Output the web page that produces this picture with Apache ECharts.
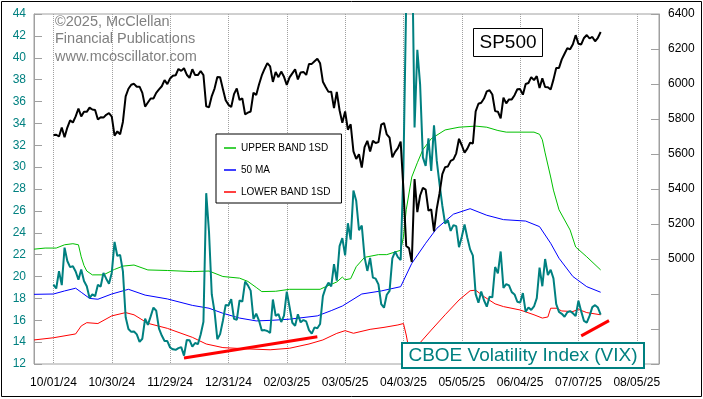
<!DOCTYPE html>
<html>
<head>
<meta charset="utf-8">
<script src="https://cdn.jsdelivr.net/npm/echarts@6/dist/echarts.min.js"></script>
<style>
  html, body { margin: 0; padding: 0; background: #fff; }
  #chart { width: 703px; height: 399px; }
</style>
</head>
<body>
<div id="chart"></div>
<script>
// trading-day index along the x axis, 10/01/24 sits on day 7
const dayCount = 226
const firstDay = 7
const tickLabels = ['10/01/24', '10/30/24', '11/29/24', '12/31/24', '02/03/25', '03/05/25',
  '04/03/25', '05/05/25', '06/04/25', '07/07/25', '08/05/25']

// VIX close, one value per trading day from 10/01/24
const vix = [
  19.26, 18.90, 20.49, 19.21, 22.64, 21.42, 20.86, 20.93, 20.46, 19.70,
  20.64, 19.58, 19.11, 18.03, 18.37, 18.20, 19.24, 19.08, 20.33, 19.80,
  19.34, 20.35, 23.16, 21.88, 21.98, 20.49, 16.27, 15.20, 14.94, 14.97,
  14.71, 14.02, 14.31, 16.14, 15.58, 16.35, 17.16, 16.87, 15.24, 14.60,
  14.10, 14.10, 13.51, 13.34, 13.30, 13.45, 13.54, 12.77, 14.19, 14.18,
  13.58, 13.92, 13.81, 14.69, 15.87, 27.62, 24.09, 18.36, 16.78, 14.27,
  14.73, 15.95, 17.40, 17.35, 17.93, 16.13, 16.04, 17.82, 17.70, 19.54,
  19.19, 18.71, 16.12, 16.60, 15.97, 15.06, 15.10, 15.02, 14.85, 17.90,
  16.41, 16.56, 15.84, 16.43, 18.62, 17.21, 15.77, 15.50, 16.54, 15.81,
  16.02, 15.89, 15.10, 14.77, 15.35, 15.27, 15.66, 18.21, 18.98, 19.43,
  19.10, 21.13, 19.63, 22.78, 23.51, 21.93, 24.87, 23.37, 27.86, 26.92,
  24.23, 24.66, 21.77, 20.51, 21.70, 19.90, 19.80, 19.28, 17.48, 17.15,
  18.33, 18.69, 21.65, 22.28, 21.77, 21.51, 30.02, 45.31, 46.98, 52.33,
  33.62, 40.72, 37.56, 30.89, 30.12, 32.64, 29.65, 33.82, 30.57, 28.45,
  26.47, 24.84, 25.15, 24.17, 24.70, 24.60, 22.68, 23.64, 24.76, 23.55,
  22.48, 21.90, 18.39, 17.61, 18.62, 17.83, 17.24, 18.14, 18.09, 20.87,
  20.28, 22.29, 18.96, 19.31, 19.18, 18.57, 18.36, 17.69, 17.61, 18.48,
  16.77, 17.16, 16.95, 17.26, 18.02, 20.82, 19.11, 21.60, 20.14, 20.62,
  19.83, 17.48, 16.76, 16.59, 16.32, 16.73, 16.83, 16.64, 16.38, 17.79,
  16.81, 15.94, 15.78, 16.40, 17.20, 17.38, 17.16, 16.52
]

// S&P 500 close, same days
const spx = [
  5709, 5710, 5700, 5751, 5696, 5751, 5792, 5780, 5815, 5860,
  5815, 5842, 5841, 5865, 5854, 5851, 5797, 5810, 5808, 5824,
  5833, 5814, 5705, 5729, 5713, 5783, 5929, 5973, 5996, 6001,
  5984, 5985, 5949, 5871, 5894, 5917, 5917, 5949, 5969, 5987,
  6022, 5999, 6032, 6047, 6050, 6086, 6075, 6090, 6053, 6035,
  6084, 6051, 6051, 6074, 6051, 5872, 5867, 5931, 5974, 6040,
  6038, 5971, 5907, 5882, 5869, 5942, 5975, 5909, 5918, 5827,
  5836, 5843, 5950, 5937, 5997, 6049, 6086, 6119, 6101, 6012,
  6068, 6039, 6071, 6041, 5995, 6038, 6061, 6084, 6026, 6066,
  6069, 6052, 6115, 6115, 6130, 6144, 6118, 6013, 5983, 5955,
  5956, 5862, 5955, 5850, 5778, 5843, 5739, 5770, 5615, 5572,
  5599, 5522, 5639, 5675, 5615, 5675, 5663, 5668, 5768, 5777,
  5712, 5693, 5581, 5612, 5633, 5671, 5397, 5074, 5062, 4983,
  5457, 5268, 5363, 5406, 5397, 5276, 5283, 5158, 5288, 5376,
  5485, 5525, 5529, 5561, 5569, 5604, 5687, 5650, 5607, 5631,
  5664, 5660, 5844, 5887, 5893, 5917, 5958, 5964, 5940, 5845,
  5842, 5803, 5922, 5889, 5912, 5912, 5936, 5970, 5971, 5939,
  6000, 6006, 6039, 6022, 6045, 5977, 6033, 5983, 5981, 5968,
  6025, 6092, 6092, 6141, 6173, 6205, 6198, 6227, 6279, 6230,
  6226, 6263, 6280, 6260, 6269, 6244, 6264, 6297
]

// bands read as [day, value]
const upperBand = [
  [0, 22.5], [4, 22.6], [8, 22.6], [11, 22.9], [14, 23.0], [16, 22.9], [17, 21.8], [18, 21.0],
  [19, 20.5], [21, 20.15], [25, 20.15], [29, 20.65], [32, 20.95], [36, 21.05], [41, 20.6],
  [48, 20.55], [57, 20.45], [63, 20.5], [68, 20.0], [74, 19.85], [77, 19.55], [80, 19.0],
  [82, 18.62], [87, 18.65], [92, 18.83], [103, 18.83], [105, 19.07], [109, 19.5], [111, 19.95],
  [112, 19.7], [114, 19.8], [116, 20.9], [119, 21.75], [124, 22.0], [127, 22.0], [132, 22.4],
  [133, 23.6], [134, 26.1], [136, 29.1], [138, 30.4], [140, 31.6], [143, 32.6], [148, 33.4],
  [153, 33.65], [159, 33.75], [163, 33.65], [167, 33.35], [170, 33.2], [175, 33.2], [180, 33.2],
  [182, 33.0], [183, 32.5], [184, 31.3], [186, 29.1], [187, 27.9], [189, 26.1], [193, 24.25],
  [195, 22.7], [199, 21.8], [204, 20.6]
]
const movingAvg = [
  [0, 18.37], [7, 18.4], [11, 18.68], [15, 18.93], [17, 18.56], [20, 18.0], [23, 17.92],
  [28, 18.4], [34, 18.83], [40, 18.3], [48, 17.95], [57, 17.36], [63, 17.1], [68, 16.64],
  [74, 16.2], [80, 15.94], [86, 16.0], [92, 16.1], [102, 16.4], [107, 16.88], [111, 17.3],
  [118, 18.4], [125, 18.68], [132, 19.07], [136, 21.2], [141, 23.04], [145, 24.4], [151, 25.7],
  [157, 26.2], [163, 25.6], [169, 25.2], [177, 25.07], [182, 24.56], [186, 23.04], [189, 21.67],
  [194, 20.0], [199, 19.07], [204, 18.56]
]
const lowerBand = [
  [0, 14.2], [7, 14.4], [15, 14.75], [17, 15.48], [19, 15.78], [23, 15.7], [28, 16.4], [33, 16.7],
  [36, 16.5], [41, 15.72], [48, 15.26], [57, 14.44], [62, 13.83], [68, 13.5], [77, 13.38],
  [85, 13.3], [92, 13.44], [99, 13.83], [104, 14.2], [109, 14.8], [112, 15.05], [115, 14.81],
  [121, 15.17], [126, 15.35], [131, 15.57], [133, 15.7], [134, 14.65], [135, 13.3], [136, 12.2],
  [137, 11.8], [138, 12.5], [139, 13.95], [143, 15.1], [148, 16.5], [153, 17.85], [157, 18.7],
  [159, 18.75], [162, 18.16], [166, 17.5], [169, 17.25], [175, 16.94], [180, 16.5], [183, 16.2],
  [185, 16.3], [186, 17.1], [188, 17.1], [190, 16.85], [194, 16.8], [196, 17.0], [199, 16.7],
  [204, 16.5]
]
// hand drawn trend lines on the VIX lows
const trendLow1 = [[54, 12.55], [102, 14.5]]
const trendLow2 = [[197, 14.57], [207, 15.97]]

const font = 'Liberation Sans, Arial, sans-serif'
const teal = '#008080'
const frame = '#a0a0a0'

const days = Array.from({length: dayCount}, (_, i) => i)
const isTick = (index) => index >= firstDay && (index - firstDay) % 21 === 0

const chart = echarts.init(document.getElementById('chart'), null, {renderer: 'canvas'})

const option = {
  animation: false,
  backgroundColor: '#fff',
  grid: {
    left: 34,
    right: 44,
    top: 14,
    bottom: 35,
    show: true,
    borderColor: frame,
    borderWidth: 1
  },
  legend: {
    data: ['UPPER BAND 1SD', '50 MA', 'LOWER BAND 1SD'],
    orient: 'vertical',
    left: 216,
    top: 134,
    backgroundColor: '#fff',
    borderColor: '#000',
    borderWidth: 1,
    borderRadius: 0,
    padding: [8, 11, 5, 8],
    itemGap: 10,
    itemWidth: 12,
    itemHeight: 1.5,
    icon: 'rect',
    textStyle: {fontSize: 10, fontFamily: font, color: '#000', lineHeight: 12}
  },
  xAxis: {
    type: 'category',
    data: days,
    boundaryGap: false,
    axisLine: {show: false},
    axisTick: {show: false, interval: isTick},
    axisLabel: {
      interval: isTick,
      margin: 13,
      fontSize: 12,
      fontFamily: font,
      color: '#000',
      formatter: (value, index) => tickLabels[(index - firstDay) / 21] || ''
    },
    splitLine: {
      show: true,
      interval: isTick,
      lineStyle: {color: frame, type: 'dotted', width: 1}
    }
  },
  yAxis: [
    {
      type: 'value',
      min: 12,
      max: 44,
      interval: 2,
      position: 'left',
      axisLine: {show: true, lineStyle: {color: frame}},
      axisTick: {show: true, inside: true, length: 8, lineStyle: {color: frame}},
      axisLabel: {margin: 8, fontSize: 12, fontFamily: font, color: teal},
      splitLine: {show: false}
    },
    {
      type: 'value',
      min: 4400,
      max: 6400,
      interval: 200,
      position: 'right',
      axisLine: {show: true, lineStyle: {color: frame}},
      axisTick: {show: true, inside: true, length: 8, lineStyle: {color: frame}},
      axisLabel: {
        margin: 9,
        fontSize: 12,
        fontFamily: font,
        color: '#000',
        formatter: (v) => (v >= 5000 ? String(v) : '')
      },
      splitLine: {show: false}
    }
  ],
  series: [
    {
      name: 'UPPER BAND 1SD',
      type: 'line',
      data: upperBand,
      symbol: 'none',
      color: '#00c000',
      lineStyle: {width: 1},
      z: 2
    },
    {
      name: '50 MA',
      type: 'line',
      data: movingAvg,
      symbol: 'none',
      color: '#0000ff',
      lineStyle: {width: 1},
      z: 2
    },
    {
      name: 'LOWER BAND 1SD',
      type: 'line',
      data: lowerBand,
      symbol: 'none',
      color: '#ff0000',
      lineStyle: {width: 1},
      z: 2
    },
    {
      name: 'trend1',
      type: 'line',
      data: trendLow1,
      symbol: 'none',
      color: '#ff0000',
      lineStyle: {width: 3},
      z: 3
    },
    {
      name: 'trend2',
      type: 'line',
      data: trendLow2,
      symbol: 'none',
      color: '#ff0000',
      lineStyle: {width: 3},
      z: 3
    },
    {
      name: 'VIX',
      type: 'line',
      data: vix.map((v, i) => [i + firstDay, v]),
      symbol: 'none',
      color: teal,
      lineStyle: {width: 2},
      z: 4
    },
    {
      name: 'SP500',
      type: 'line',
      yAxisIndex: 1,
      data: spx.map((v, i) => [i + firstDay, v]),
      symbol: 'none',
      color: '#000',
      lineStyle: {width: 2},
      z: 5
    }
  ],
  graphic: {
    elements: [
      {
        type: 'rect',
        z: 100,
        silent: true,
        shape: {x: 1.5, y: 1.5, width: 700, height: 395},
        style: {fill: 'none', stroke: '#000', lineWidth: 1}
      },
      {
        type: 'text',
        z: 100,
        left: 55,
        top: 13,
        style: {
          text: '©2025, McClellan\nFinancial Publications\nwww.mcoscillator.com',
          fill: '#808080',
          font: '14.5px ' + font,
          lineHeight: 17.5
        }
      },
      {
        type: 'rect',
        z: 100,
        shape: {x: 473.5, y: 28.5, width: 69, height: 28},
        style: {fill: '#fff', stroke: '#000', lineWidth: 1}
      },
      {
        type: 'text',
        z: 101,
        x: 508,
        y: 43,
        style: {
          text: 'SP500', fill: '#000', font: '19px ' + font,
          align: 'center', verticalAlign: 'middle'
        }
      },
      {
        type: 'rect',
        z: 100,
        shape: {x: 402, y: 343, width: 242, height: 25},
        style: {fill: '#fff', stroke: teal, lineWidth: 2}
      },
      {
        type: 'text',
        z: 101,
        x: 523,
        y: 356,
        style: {
          text: 'CBOE Volatility Index (VIX)', fill: teal, font: '19px ' + font,
          align: 'center', verticalAlign: 'middle'
        }
      }
    ]
  }
}

chart.setOption(option)
</script>
</body>
</html>
